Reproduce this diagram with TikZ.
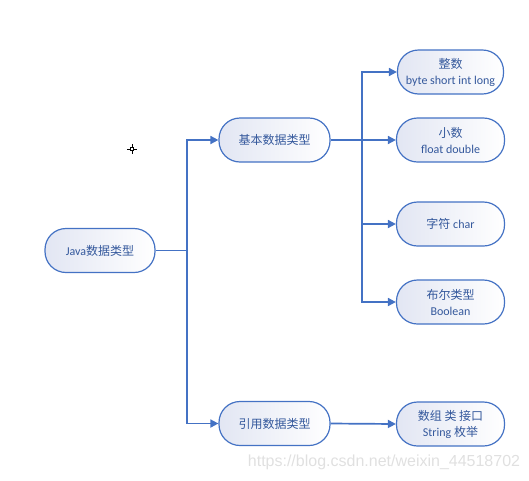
\documentclass[tikz,border=0pt]{standalone}
\usepackage{fontspec}
\setmainfont{Carlito}
\newfontfamily\cjk{Noto Sans CJK SC}
\newfontfamily\wmfont{Liberation Sans}
\usetikzlibrary{arrows.meta}
\definecolor{lineblue}{RGB}{68,114,196}
\definecolor{txtblue}{RGB}{52,88,156}
\definecolor{fillblue}{RGB}{226,230,243}
\begin{document}
\begin{tikzpicture}[x=1pt,y=-1pt,
 box/.style={draw=lineblue, line width=1.2pt, rounded corners=21pt, left color=fillblue, right color=white,
   minimum height=44pt, text=txtblue, font=\fontsize{12}{16}\selectfont, align=center, inner sep=0pt},
 conn/.style={draw=lineblue, line width=1.7pt},
 arr/.style={conn, -{Triangle[length=8pt,width=8pt]}}]
\useasboundingbox (0,0) rectangle (529,480);
\node[box, minimum width=110pt] (java) at (100,250.5) {Java{\cjk 数据类型}};
\node[box, minimum width=111pt] (basic) at (274.5,140) {\cjk 基本数据类型};
\node[box, minimum width=111pt] (ref) at (274.5,423.5) {\cjk 引用数据类型};
\node[box, minimum width=106pt] (int) at (450.5,72) {{\cjk 整数}\\byte short int long};
\node[box, minimum width=108pt] (flt) at (450.5,140) {{\cjk 小数}\\float double};
\node[box, minimum width=108pt] (chr) at (450.5,224) {{\cjk 字符} char};
\node[box, minimum width=108pt] (bool) at (450.5,302) {{\cjk 布尔类型}\\Boolean};
\node[box, minimum width=108pt] (arrs) at (450.5,424) {{\cjk 数组\ 类\ 接口}\\String {\cjk 枚举}};
\coordinate (jx) at (187,250.5);
\coordinate (bx) at (362,140);
\draw[conn] (java.east) -- (jx);
\draw[arr] (jx) |- (basic.west);
\draw[arr] (jx) |- (ref.west);
\draw[conn] (basic.east) -- (bx);
\draw[arr] (bx) |- (int.west);
\draw[arr] (bx) -- (flt.west);
\draw[arr] (bx) |- (chr.west);
\draw[arr] (bx) |- (bool.west);
\draw[arr] (ref.east) -- (arrs.west);
% small cursor mark
\draw[black, line width=0.6pt] (127,149) -- (137,149) (132,144) -- (132,154);
\draw[black, line width=0.5pt, fill=white] (130.5,147.5) rectangle (133.5,150.5);
\node[text=black!12, font=\wmfont\fontsize{16}{16}\selectfont, inner sep=0pt] (wm) at (384,462) {https://blog.csdn.net/weixin\_44518702};
\end{tikzpicture}
\end{document}
